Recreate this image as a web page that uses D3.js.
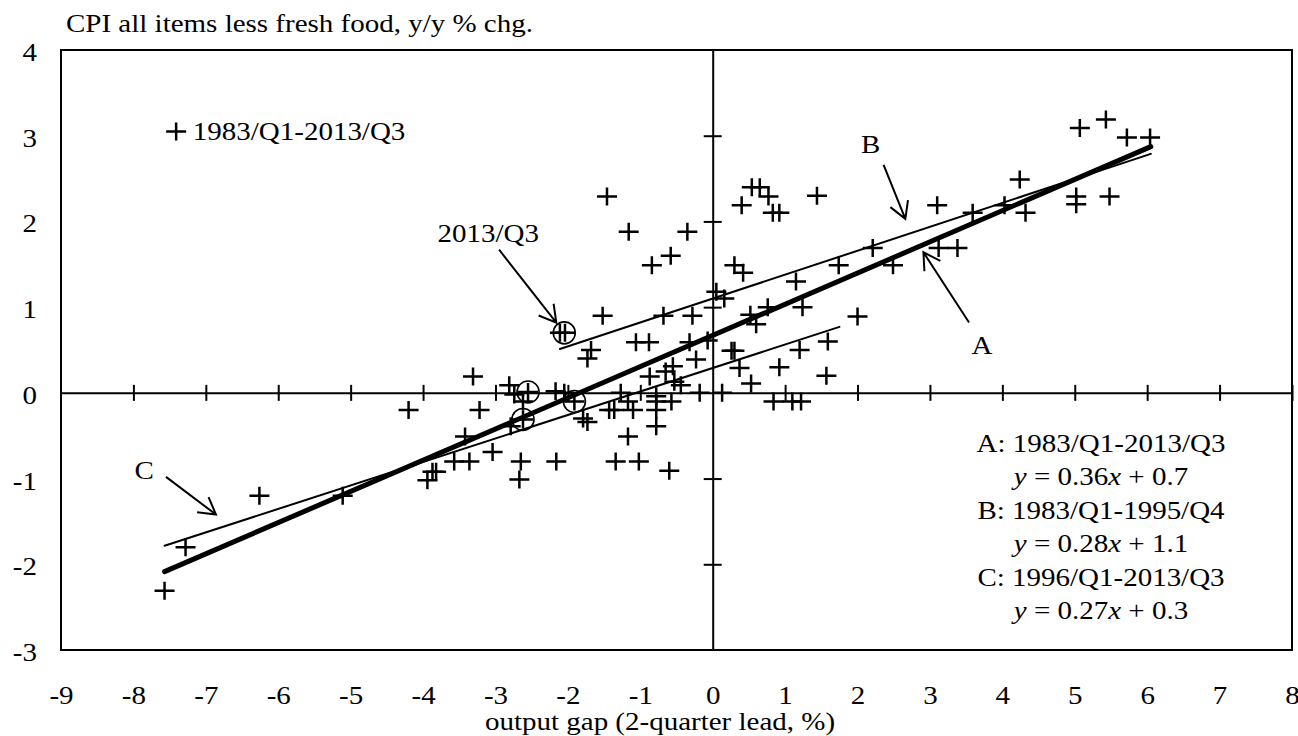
<!DOCTYPE html>
<meta charset="utf-8">
<script src="https://cdn.jsdelivr.net/npm/d3@7"></script>
<html>
<head>
<style>
body { margin: 0; background: #fff; }
text { font-family: "Liberation Serif", "Times New Roman", serif; fill: #000; }
</style>
</head>
<body>
<div id="chart"></div>
<script>

// output gap (2-quarter lead, %) and CPI less fresh food (y/y %), 1983/Q1-2013/Q3
var gapX = [-1.46,-1.16,-0.35,-0.84,-0.58,0.54,0.65,0.77,0.40,0.83,0.92,1.44,1.74,2.21,2.49,3.10,3.12,3.38,3.59,4.03,
  4.32,4.24,5.02,5.02,5.48,5.07,5.43,5.72,6.04,0.30,0.42,1.15,1.24,0.76,0.52,0.60,2.00,0.05,0.16,-1.52,
  -0.68,-0.28,-2.11,-2.04,-1.06,-0.88,-0.32,-0.07,-1.68,1.20,1.59,0.26,0.30,-1.73,-0.23,0.37,0.92,-0.55,-0.87,-0.65,
  -0.53,-0.44,0.53,1.57,-3.31,-2.81,-2.74,-2.55,-2.17,-2.05,-1.27,-0.18,0.13,-0.78,-1.91,-1.43,-1.36,-1.17,-1.10,-0.78,
  -0.78,-0.57,0.84,1.10,1.22,-3.22,-4.20,-2.62,-2.62,-2.79,-1.79,-1.73,-0.78,-1.17,-3.42,-3.04,-3.57,-3.36,-2.65,-2.67,
  -2.16,-1.34,-1.02,-0.60,-3.87,-3.82,-3.94,-6.26,-5.11,-7.28,-7.57];
var cpiY = [2.29,1.88,1.88,1.49,1.60,2.40,2.40,2.29,2.19,2.10,2.10,2.30,1.49,1.69,1.49,2.19,1.69,1.69,2.10,2.19,
  2.10,2.49,2.29,2.20,2.29,3.09,3.19,2.98,2.98,1.49,1.40,1.30,1.00,1.00,0.91,0.80,0.89,1.18,1.10,0.90,
  0.90,0.90,0.70,0.70,0.59,0.59,0.59,0.61,0.50,0.50,0.60,0.49,0.49,0.40,0.39,0.29,0.30,0.31,0.19,0.25,
  0.13,0.09,0.11,0.20,0.19,0.09,-0.02,0.01,0.02,0.00,0.00,0.00,0.00,-0.04,-0.10,-0.20,-0.20,-0.10,-0.20,-0.10,
  -0.20,-0.10,-0.10,-0.10,-0.10,-0.20,-0.20,-0.31,-0.10,-0.39,-0.30,-0.34,-0.39,-0.51,-0.51,-0.69,-0.80,-0.80,-0.80,-1.01,
  -0.80,-0.80,-0.80,-0.91,-0.92,-0.92,-1.02,-1.20,-1.20,-1.80,-2.31];

// recent quarters that are circled
var circGapX = [-2.05,-2.55,-2.62,-1.91];
var circCpiY = [0.70,0.01,-0.31,-0.10];

// regression lines
var fitNames = ["A","B","C"];
var fitPeriods = ["1983/Q1-2013/Q3","1983/Q1-1995/Q4","1996/Q1-2013/Q3"];
var fitSlope = [0.364,0.279,0.274];
var fitIntercept = [0.67,1.10,0.29];
var fitFrom = [-7.57,-2.11,-7.57];
var fitTo = [6.05,6.05,1.75];
var fitCoefText = ["0.36","0.28","0.27"];
var fitConstText = ["0.7","1.1","0.3"];

var xTicks = d3.range(-9, 9);
var yTicks = d3.range(-3, 5);

var W = 1298, H = 736;
var FS = 25, SX = 1.16;   // type is set a bit wide in the original

var svg = d3.select("#chart").append("svg")
  .attr("width", W).attr("height", H);

var x = d3.scaleLinear().domain([-9, 8]).range([61, 1292]);
var y = d3.scaleLinear().domain([-3, 4]).range([650, 50]);

function label(g, px, py, str, anchor) {
  return g.append("text")
    .attr("transform", "translate(" + px + "," + py + ") scale(" + SX + ",1)")
    .attr("text-anchor", anchor || "start")
    .style("font-size", FS + "px")
    .text(str);
}
// plain hyphen for negatives, like the original
var fmt = function(d) { return String(d); };

// frame
svg.append("rect")
  .attr("x", x(-9)).attr("y", y(4))
  .attr("width", x(8) - x(-9)).attr("height", y(-3) - y(4))
  .attr("fill", "none").attr("stroke", "#000").attr("stroke-width", 2);

// zero axes with crossing ticks
var xZero = svg.append("g")
  .attr("transform", "translate(0," + y(0) + ")")
  .call(d3.axisBottom(x).tickValues(xTicks.filter(function(d){ return d !== 0 && d > -9; })).tickSizeOuter(0).tickFormat(""));
xZero.select(".domain").attr("stroke-width", 2);
xZero.selectAll(".tick line").attr("y1", -8).attr("y2", 8).attr("stroke-width", 2);

var yZero = svg.append("g")
  .attr("transform", "translate(" + x(0) + ",0)")
  .call(d3.axisLeft(y).tickValues(yTicks.filter(function(d){ return d !== 0 && d > -3 && d < 4; })).tickSizeOuter(0).tickFormat(""));
yZero.select(".domain").attr("stroke-width", 2);
yZero.selectAll(".tick line").attr("x1", -9).attr("x2", 9).attr("stroke-width", 2);

// tick labels
var xLab = svg.append("g")
  .attr("transform", "translate(0,650)")
  .call(d3.axisBottom(x).tickValues(xTicks).tickSize(0).tickPadding(0).tickFormat(fmt));
xLab.select(".domain").remove();
xLab.selectAll("text")
  .attr("y", 54).attr("dy", 0)
  .attr("transform", "scale(" + SX + ",1)")
  .style("font-size", FS + "px").style("font-family", "Liberation Serif, serif");

var yLab = svg.append("g")
  .attr("transform", "translate(37,0)")
  .call(d3.axisLeft(y).tickValues(yTicks).tickSize(0).tickPadding(0).tickFormat(fmt));
yLab.select(".domain").remove();
yLab.selectAll("text")
  .attr("x", 0).attr("dy", "0.42em")
  .attr("transform", "scale(" + SX + ",1)")
  .style("font-size", FS + "px").style("font-family", "Liberation Serif, serif");

// titles
label(svg, 66, 32, "CPI all items less fresh food, y/y % chg.");
label(svg, 660, 730, "output gap (2-quarter lead, %)", "middle");

// fitted lines
var lineW = [5, 2, 2];
fitNames.forEach(function(n, i) {
  svg.append("line")
    .attr("x1", x(fitFrom[i])).attr("y1", y(fitSlope[i] * fitFrom[i] + fitIntercept[i]))
    .attr("x2", x(fitTo[i])).attr("y2", y(fitSlope[i] * fitTo[i] + fitIntercept[i]))
    .attr("stroke", "#000").attr("stroke-width", lineW[i]).attr("stroke-linecap", "round");
});

// scatter of "+" marks
var pts = gapX.map(function(g, i) { return {gx: g, cy: cpiY[i]}; });
function plus(d) {
  var px = x(d.gx), py = y(d.cy);
  return "M" + (px - 10) + "," + py + "H" + (px + 10) + "M" + px + "," + (py - 9) + "V" + (py + 9);
}
svg.append("g").selectAll("path").data(pts).enter().append("path")
  .attr("d", plus).attr("stroke", "#000").attr("stroke-width", 2.5).attr("fill", "none");

// circles on the latest quarters
svg.append("g").selectAll("circle").data(circGapX).enter().append("circle")
  .attr("cx", function(d) { return x(d); })
  .attr("cy", function(d, i) { return y(circCpiY[i]); })
  .attr("r", 11).attr("fill", "none").attr("stroke", "#000").attr("stroke-width", 1.6);

// arrows
function arrow(x0, y0, x1, y1) {
  var ax = x(x0), ay = y(y0), bx = x(x1), by = y(y1);
  var ang = Math.atan2(ay - by, ax - bx), L = 19, a = Math.PI / 6;
  svg.append("path")
    .attr("d", "M" + ax + "," + ay + "L" + bx + "," + by +
      "M" + (bx + L * Math.cos(ang - a)) + "," + (by + L * Math.sin(ang - a)) + "L" + bx + "," + by +
      "L" + (bx + L * Math.cos(ang + a)) + "," + (by + L * Math.sin(ang + a)))
    .attr("fill", "none").attr("stroke", "#000").attr("stroke-width", 2);
}
arrow(-2.95, 1.67, -2.16, 0.82);
arrow(2.36, 2.66, 2.66, 2.03);
arrow(3.54, 0.82, 2.91, 1.64);
arrow(-7.55, -0.98, -6.86, -1.42);

label(svg, x(-3.10), y(1.86) + 9, "2013/Q3", "middle");
label(svg, x(2.18), y(2.90) + 9, "B", "middle");
label(svg, x(3.72), y(0.56) + 9, "A", "middle");
label(svg, x(-7.85), y(-0.90) + 9, "C", "middle");

// legend at top left
svg.append("path").attr("d", plus({gx: -7.41, cy: 3.05}))
  .attr("stroke", "#000").attr("stroke-width", 2.5);
label(svg, x(-7.18), y(3.05) + 9, fitPeriods[0]);

// regression legend
fitNames.forEach(function(n, i) {
  var by = 452 + i * 66.8;
  label(svg, 1101, by, n + ": " + fitPeriods[i], "middle");
  var t = label(svg, 1101, by + 33.4, "", "middle");
  t.append("tspan").style("font-style", "italic").text("y");
  t.append("tspan").text(" = " + fitCoefText[i]);
  t.append("tspan").style("font-style", "italic").text("x");
  t.append("tspan").text(" + " + fitConstText[i]);
});

</script>
</body>
</html>
